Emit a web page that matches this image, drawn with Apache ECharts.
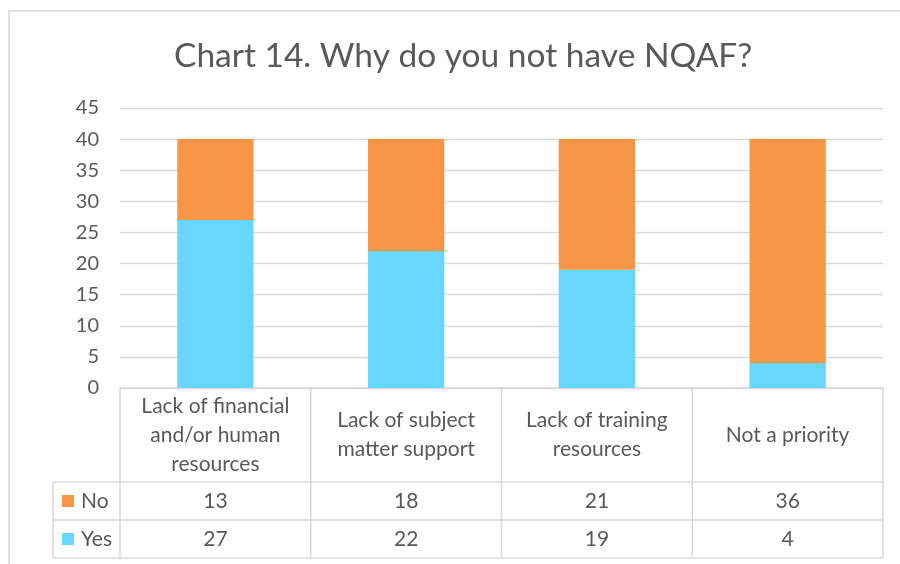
<!DOCTYPE html>
<html>
<head>
<meta charset="utf-8">
<script src="https://cdn.jsdelivr.net/npm/echarts@6/dist/echarts.min.js"></script>
<style>
html,body{margin:0;padding:0;background:#fff;}
#chart{width:900px;height:564px;}
</style>
</head>
<body>
<div id="chart"></div>
<script>
const titleText = 'Chart 14. Why do you not have NQAF?';
const categories = ['Lack of financial\nand/or human\nresources', 'Lack of subject\nmatter support', 'Lack of training\nresources', 'Not a priority'];
const seriesNames = ['No', 'Yes'];
const noValues = [13, 18, 21, 36];
const yesValues = [27, 22, 19, 4];
const yTicks = [0, 5, 10, 15, 20, 25, 30, 35, 40, 45];

const colNo = '#F79646';
const colYes = '#69D6FF';
const textCol = '#595959';
const lineCol = '#D9D9D9';
const font = 'Lato, "Liberation Sans", sans-serif';

const chart = echarts.init(document.getElementById('chart'), null, {renderer: 'canvas'});

const gridLeft = 120, gridRight = 17, gridTop = 108, gridBottom = 176;

chart.setOption({
  animation: false,
  backgroundColor: '#fff',
  title: {
    text: titleText,
    left: 169,
    top: 34,
    textStyle: {fontFamily: font, fontSize: 33.5, fontWeight: 'normal', color: textCol}
  },
  grid: {left: gridLeft, right: gridRight, top: gridTop, bottom: gridBottom, containLabel: false},
  xAxis: {
    type: 'category',
    data: categories,
    axisLine: {show: false},
    axisTick: {show: false},
    axisLabel: {show: false},
    splitLine: {show: false}
  },
  yAxis: {
    type: 'value',
    min: yTicks[0],
    max: yTicks[yTicks.length - 1],
    interval: 5,
    axisLine: {show: false},
    axisTick: {show: false},
    axisLabel: {fontFamily: font, fontSize: 20, color: textCol, margin: 21},
    splitLine: {lineStyle: {color: lineCol, width: 1.3}}
  },
  series: [
    {name: seriesNames[1], type: 'bar', stack: 's', data: yesValues, barWidth: '40%', itemStyle: {color: colYes}},
    {name: seriesNames[0], type: 'bar', stack: 's', data: noValues, barWidth: '40%', itemStyle: {color: colNo}}
  ]
});

// Build the data table from the axis scale
const x0 = gridLeft, x1 = 900 - gridRight;
const y0 = chart.convertToPixel({yAxisIndex: 0}, 0);
const headerBottom = y0 + 94;
const rowH = 38;
const tableLeft = 53;
const n = categories.length;
const catW = (x1 - x0) / n;
const els = [];
const ls = {stroke: lineCol, lineWidth: 1.5};
const fs = 21;

// outer chart border
els.push({type: 'rect', shape: {x: 9, y: 11, width: 900, height: 600}, style: {fill: 'none', stroke: lineCol, lineWidth: 1.5}, z: 0});

// horizontal lines
els.push({type: 'line', shape: {x1: x0, y1: y0, x2: x1, y2: y0}, style: ls});
for (let r = 0; r <= 2; r++) {
  const y = headerBottom + r * rowH;
  els.push({type: 'line', shape: {x1: tableLeft, y1: y, x2: x1, y2: y}, style: ls});
}
// vertical lines
for (let i = 0; i <= n; i++) {
  const x = x0 + i * catW;
  els.push({type: 'line', shape: {x1: x, y1: y0, x2: x, y2: headerBottom + 2 * rowH}, style: ls});
}
els.push({type: 'line', shape: {x1: tableLeft, y1: headerBottom, x2: tableLeft, y2: headerBottom + 2 * rowH}, style: ls});

// header labels
categories.forEach((c, i) => {
  const cx = chart.convertToPixel({xAxisIndex: 0}, i);
  els.push({type: 'text', x: cx, y: (y0 + headerBottom) / 2, style: {text: c, fontFamily: font, fontSize: fs, fill: textCol, align: 'center', verticalAlign: 'middle', lineHeight: 29}});
});

// rows
const rows = [[seriesNames[0], noValues, colNo], [seriesNames[1], yesValues, colYes]];
rows.forEach((row, r) => {
  const cy = headerBottom + r * rowH + rowH / 2;
  els.push({type: 'rect', shape: {x: 62, y: cy - 6, width: 12, height: 12}, style: {fill: row[2]}});
  els.push({type: 'text', x: 81, y: cy, style: {text: row[0], fontFamily: font, fontSize: fs, fill: textCol, align: 'left', verticalAlign: 'middle'}});
  row[1].forEach((v, i) => {
    const cx = chart.convertToPixel({xAxisIndex: 0}, i);
    els.push({type: 'text', x: cx, y: cy, style: {text: String(v), fontFamily: font, fontSize: fs, fill: textCol, align: 'center', verticalAlign: 'middle'}});
  });
});

chart.setOption({graphic: {elements: els}});
</script>
</body>
</html>
